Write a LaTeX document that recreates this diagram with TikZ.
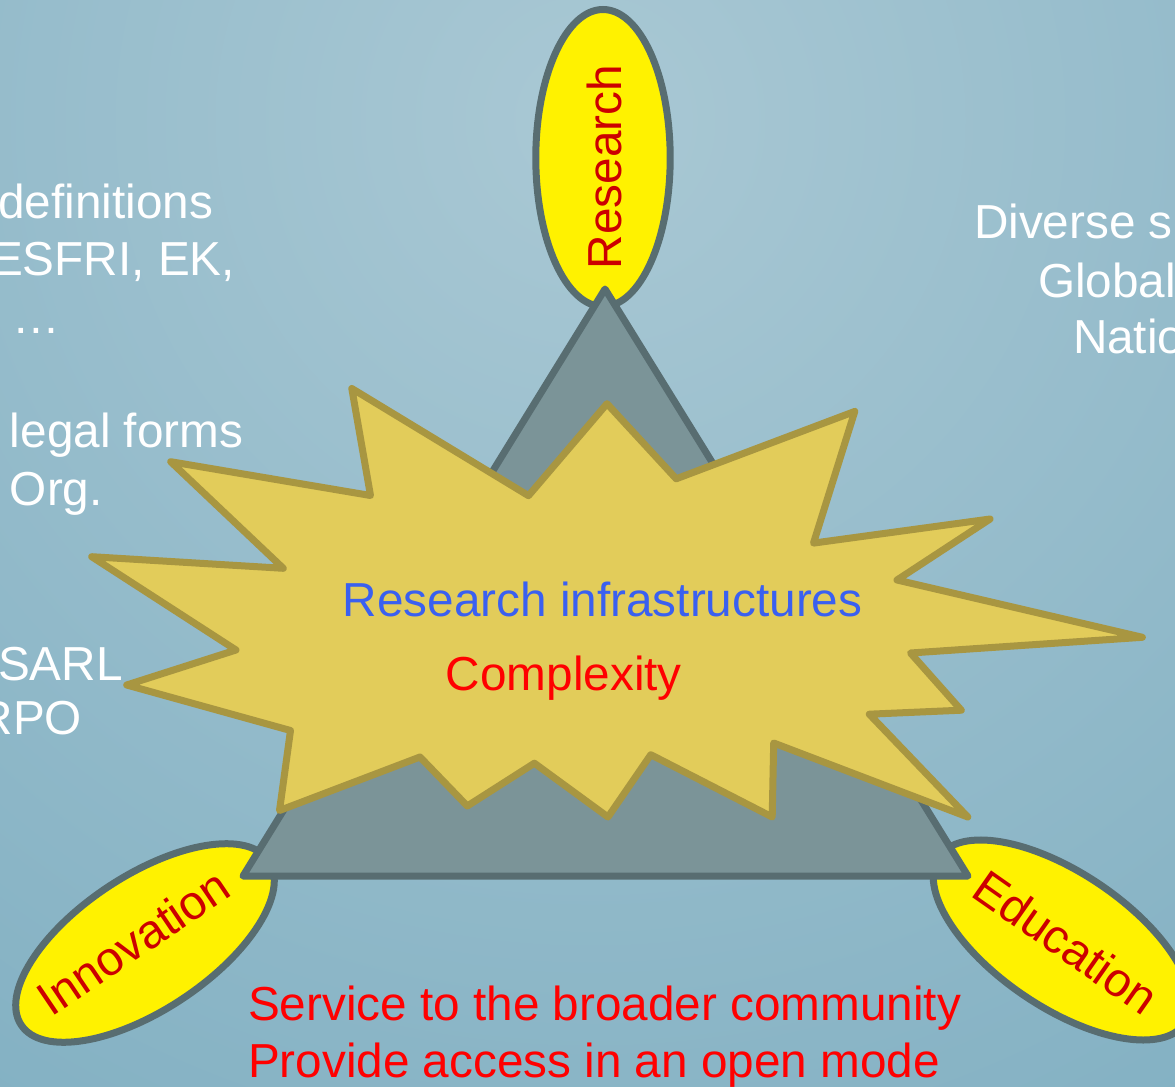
\documentclass[tikz,border=0pt]{standalone}
\usepackage{fontspec}
\setmainfont{Liberation Sans}
\usetikzlibrary{shapes.geometric}
\definecolor{bgin}{HTML}{A9C8D4}
\definecolor{bgout}{HTML}{78AABE}
\definecolor{trifill}{HTML}{7B9498}
\definecolor{tridraw}{HTML}{586D71}
\definecolor{starfill}{HTML}{E2CC5A}
\definecolor{stardraw}{HTML}{A89641}
\definecolor{elltext}{HTML}{CC0000}
\definecolor{riblue}{HTML}{3A60F0}
\begin{document}
\begin{tikzpicture}[x=0.5pt,y=-0.5pt,
  bigtext/.style={font=\fontsize{23.85pt}{28.6pt}\selectfont, inner sep=0pt, outer sep=0pt},
  whitetext/.style={bigtext, text=white},
  redtext/.style={bigtext, text=red},
  corner/.style={ellipse, draw=tridraw, fill=yellow, line width=3.5pt,
    minimum width=148.5pt, minimum height=67.2pt, inner sep=0pt},
  cornertext/.style={bigtext, text=elltext},
  tri/.style={fill=trifill, draw=tridraw, line width=3.5pt, line join=round},
  burst/.style={fill=starfill, draw=stardraw, line width=3.5pt, line join=round}]
\useasboundingbox (0,0) rectangle (1175,1087);
\clip (0,0) rectangle (1175,1087);
\shade[inner color=bgin, outer color=bgout] (590,120) circle [radius=750pt];

% corner ellipses
\node[corner, rotate=90] (res) at (603,158) {};
\node[corner, rotate=33.5] (inn) at (145,943) {};
\node[corner, rotate=-34] (edu) at (1062,940) {};

% triangle
\coordinate (ta) at (605,289);
\coordinate (tl) at (243,876);
\coordinate (tr) at (968,876);
\draw[tri] (ta) -- (tl) -- (tr) -- cycle;

% corner texts
\node[cornertext, rotate=90] (restext) at (604,167) {Research};
\node[cornertext, rotate=34] (inntext) at (133,942) {Innovation};
\node[cornertext, rotate=-35] (edutext) at (1066,942) {Education};

% explosion
\draw[burst] (351.8,388.5) -- (370.5,495.5) -- (170.7,461.7) -- (283.3,568.3)
  -- (91.7,556.7) -- (236,650) -- (126.7,685) -- (290.5,730.5) -- (279.5,810.5)
  -- (420,757) -- (467.3,806) -- (534.4,763.2) -- (608,817) -- (650.8,754.7)
  -- (772.2,817) -- (773.7,743) -- (967.8,817) -- (869.3,714.2) -- (961.3,710.2)
  -- (910.5,653) -- (1142.4,637.3) -- (897,580) -- (990.1,519) -- (813.5,543.1)
  -- (854.8,411.4) -- (676.2,478.8) -- (607,403.7) -- (528.5,495.7) -- cycle;

% centre texts
\node[bigtext, text=riblue, anchor=base] (ri) at (602.6,616) {Research infrastructures};
\node[redtext, anchor=base] (cx) at (563.8,690) {Complexity};

% left texts
\node[whitetext, anchor=base east] (l1) at (213,218) {definitions};
\node[whitetext, anchor=base east] (l2) at (235,275) {ESFRI, EK,};
\node[whitetext, anchor=base] (l3) at (36,333) {…};
\node[whitetext, anchor=base west] (l4) at (10,447.5) {legal forms};
\node[whitetext, anchor=base west] (l5) at (10,505) {Org.};
\node[whitetext, anchor=base west] (l6) at (-2,680) {SARL};
\node[whitetext, anchor=base east] (l7) at (82,734) {RPO};

% right texts
\node[whitetext, anchor=base west] (r1) at (974,238) {Diverse s};
\node[whitetext, anchor=base west] (r2) at (1038,297) {Global};
\node[whitetext, anchor=base west] (r3) at (1073,353) {Natio};

% bottom texts
\node[redtext, anchor=base west] (b1) at (248,1020) {Service to the broader community};
\node[redtext, anchor=base west] (b2) at (248,1077) {Provide access in an open mode};
\end{tikzpicture}
\end{document}
